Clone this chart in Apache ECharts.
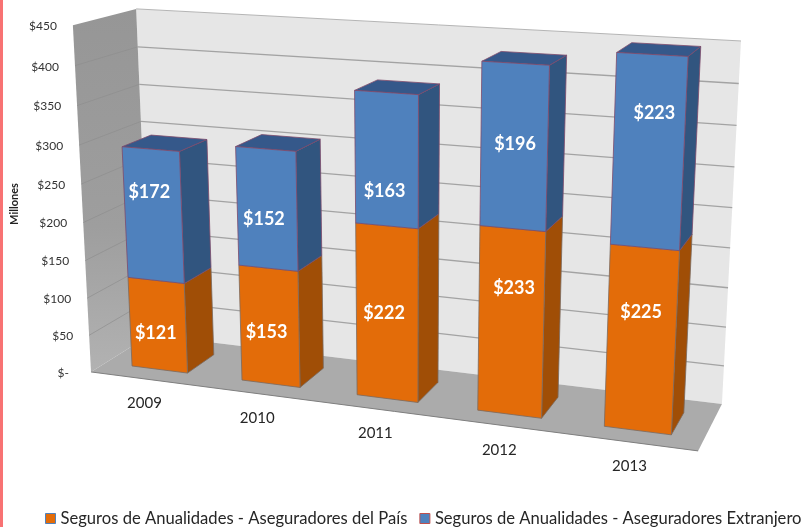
<!DOCTYPE html>
<html><head><meta charset="utf-8">
<style>html,body{margin:0;padding:0;background:#fff}#c{width:804px;height:527px}</style>
<script src="https://cdn.jsdelivr.net/npm/echarts@6/dist/echarts.min.js"></script>
</head><body><div id="c"></div>
<script>
const categories = ['2009','2010','2011','2012','2013'];
const domestic = [121,153,222,233,225];
const foreign = [172,152,163,196,223];
const yTicks = [0,50,100,150,200,250,300,350,400,450];
const yTickLabels = ['$-','$50','$100','$150','$200','$250','$300','$350','$400','$450'];
const seriesNames = ['Seguros de Anualidades - Aseguradores del País','Seguros de Anualidades - Aseguradores Extranjero'];
const yTitle = 'Millones';

// view of the 3D box: [u, v, w] box corner -> pixel
const VIEW = [
  [[0,0,0],[91,372]],[[1,0,0],[698,451]],[[1,0,1],[722,404]],[[0,0,1],[150,335]],
  [[0,1,1],[136,9]],[[1,1,1],[741,41]],[[0,1,0],[73,25]]
];
const BAR_W = 0.51, W_FRONT = 0.24, W_BACK = 0.72;
// hand placement of labels relative to the centre of their front face
const NUDGE_D = [[-2,8],[-3,6],[-3,0],[3,-35],[0,-28]];
const NUDGE_F = [[-4,-23],[-3,10],[-2,31],[1,-3],[6,-39]];

function solve(A,b){const n=b.length;for(let i=0;i<n;i++){let m=i;for(let r=i+1;r<n;r++)if(Math.abs(A[r][i])>Math.abs(A[m][i]))m=r;
  [A[i],A[m]]=[A[m],A[i]];[b[i],b[m]]=[b[m],b[i]];
  for(let r=i+1;r<n;r++){const f=A[r][i]/A[i][i];for(let c=i;c<n;c++)A[r][c]-=f*A[i][c];b[r]-=f*b[i];}}
  const x=new Array(n);for(let i=n-1;i>=0;i--){let s=b[i];for(let c=i+1;c<n;c++)s-=A[i][c]*x[c];x[i]=s/A[i][i];}return x;}
const P=(function(){const R=[],B=[];VIEW.forEach(([[X,Y,Z],[x,y]])=>{
  R.push([X,Y,Z,1,0,0,0,0,-x*X,-x*Y,-x*Z]);B.push(x);
  R.push([0,0,0,0,X,Y,Z,1,-y*X,-y*Y,-y*Z]);B.push(y);});
  const N=Array.from({length:11},()=>new Array(11).fill(0)),M=new Array(11).fill(0);
  R.forEach((r,k)=>{for(let i=0;i<11;i++){M[i]+=r[i]*B[k];for(let j=0;j<11;j++)N[i][j]+=r[i]*r[j];}});
  return solve(N,M);})();
function proj(u,v,w){const d=P[8]*u+P[9]*v+P[10]*w+1;return[(P[0]*u+P[1]*v+P[2]*w+P[3])/d,(P[4]*u+P[5]*v+P[6]*w+P[7])/d];}

function poly(points,fill,stroke,lw){return{type:'polygon',shape:{points},style:{fill,stroke:stroke||null,lineWidth:lw||0}};}
function line(a,b,stroke,lw){return{type:'line',shape:{x1:a[0],y1:a[1],x2:b[0],y2:b[1]},style:{stroke,lineWidth:lw}};}
function txt(x,y,text,fill,font,align){return{type:'text',style:{x,y,text,fill,font,textAlign:align||'center',textVerticalAlign:'middle'}};}

function toUV(params,api,cat,val){const cs=params.coordSys,pt=api.coord([cat,val]);return[(pt[0]-cs.x)/cs.width,(cs.y+cs.height-pt[1])/cs.height];}

function renderBox(params,api){
  const cs=params.coordSys,ch=[];
  const vOf=t=>(cs.y+cs.height-api.coord([0,t])[1])/cs.height;
  ch.push(poly([proj(0,0,1),proj(1,0,1),proj(1,1,1),proj(0,1,1)],'#E6E6E6'));
  ch.push(line(proj(0,1,1),proj(1,1,1),'#B5B5B5',1));
  ch.push({type:'polygon',shape:{points:[proj(0,0,0),proj(0,0,1),proj(0,1,1),proj(0,1,0)]},
    style:{fill:new echarts.graphic.LinearGradient(0,0,0,1,[{offset:0,color:'#969696'},{offset:.6,color:'#9E9E9E'},{offset:1,color:'#B2B2B2'}])}});
  ch.push(poly([proj(0,0,0),proj(1,0,0),proj(1,0,1),proj(0,0,1)],'#ABABAB'));
  yTicks.forEach((t,i)=>{const v=vOf(t);
    if(t>0&&t<450){ch.push(line(proj(0,v,1),proj(1,v,1),'#A3A3A3',1.3));
      ch.push(line(proj(0,v,0),proj(0,v,1),'#8E8E8E',0.7));}
    const p=proj(0,v,0);
    ch.push(txt(p[0]-16-(t===0?6:0),p[1]+1,yTickLabels[i],'#333','12px Lato','right'));
  });
  ch.push(line(proj(0,0,0),proj(1,0,0),'#7F7F7F',1));
  categories.forEach((c,i)=>{const x=api.coord([i,0])[0],u=(x-cs.x)/cs.width,p=proj(u,0,0);
    ch.push(txt(p[0]-1,p[1]+24.5,c,'#262626','15px Lato'));});
  return{type:'group',children:ch};
}
function renderBar(kind){return function(params,api){
  const cs=params.coordSys,i=api.value(0),val=api.value(1);
  const base=kind===0?0:domestic[i];
  const c=(api.coord([i,0])[0]-cs.x)/cs.width,hw=api.size([1,0])[0]/cs.width*BAR_W/2;
  const v0=toUV(params,api,i,base)[1],v1=toUV(params,api,i,base+val)[1];
  const u0=c-hw,u1=c+hw;
  const col=kind===0?{f:'#E36C09',s:'#A04E06',e:'#7A6A60'}:{f:'#4F81BD',s:'#31557F',t:'#35588A',e:'#7D4A6B'};
  const ch=[];
  ch.push(poly([proj(u1,v0,W_FRONT),proj(u1,v0,W_BACK),proj(u1,v1,W_BACK),proj(u1,v1,W_FRONT)],col.s,col.e,.8));
  if(kind===1)ch.push(poly([proj(u0,v1,W_FRONT),proj(u1,v1,W_FRONT),proj(u1,v1,W_BACK),proj(u0,v1,W_BACK)],col.t,col.e,.8));
  ch.push(poly([proj(u0,v0,W_FRONT),proj(u1,v0,W_FRONT),proj(u1,v1,W_FRONT),proj(u0,v1,W_FRONT)],col.f,col.e,.8));
  const mid=proj(c,(v0+v1)/2,W_FRONT),n=(kind===0?NUDGE_D:NUDGE_F)[i];
  ch.push(txt(mid[0]+n[0],mid[1]+n[1],'$'+val,'#fff','bold 18px Lato'));
  return{type:'group',children:ch};
};}

const chart=echarts.init(document.getElementById('c'),null,{renderer:'canvas',width:804,height:527});
chart.setOption({
  animation:false,backgroundColor:'#fff',
  grid:{left:100,right:100,top:60,bottom:120},
  xAxis:{type:'category',data:categories,show:false},
  yAxis:{type:'value',min:0,max:450,interval:50,show:false},
  legend:{left:45,top:510,padding:0,itemWidth:10,itemHeight:10,itemGap:12,icon:'rect',
    textStyle:{fontFamily:'Lato',fontSize:16.6,color:'#262626'},
    data:[{name:seriesNames[0],itemStyle:{color:'#E36C09',borderColor:'#4F81BD',borderWidth:1}},
          {name:seriesNames[1],itemStyle:{color:'#4F81BD',borderColor:'#C0504D',borderWidth:1}}]},
  graphic:[
    {type:'rect',shape:{x:0,y:0,width:3,height:527},style:{fill:'#F87273'},silent:true},
    {type:'text',x:14,y:204,rotation:Math.PI/2,silent:true,style:{text:yTitle,font:'bold 11px Lato',fill:'#222',textAlign:'center',textVerticalAlign:'middle'}}
  ],
  series:[
    {type:'custom',name:'box',silent:true,z:1,data:[[0,0]],renderItem:renderBox},
    {type:'custom',name:seriesNames[0],silent:true,z:2,itemStyle:{color:'#E36C09'},data:domestic.map((d,i)=>[i,d]),renderItem:renderBar(0)},
    {type:'custom',name:seriesNames[1],silent:true,z:3,itemStyle:{color:'#4F81BD'},data:foreign.map((d,i)=>[i,d]),renderItem:renderBar(1)}
  ]
});
</script></body></html>
